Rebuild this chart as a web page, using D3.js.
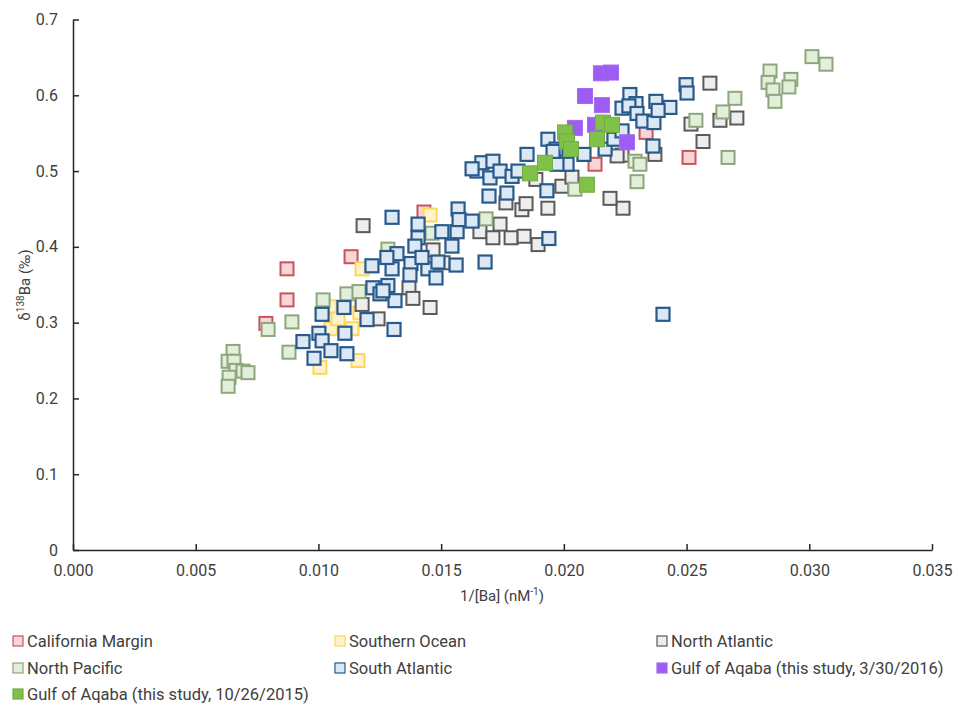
<!DOCTYPE html>
<html lang="en">
<head>
<meta charset="utf-8">
<title>d138Ba vs 1/[Ba]</title>
<style>
  body { margin: 0; background: #fff; }
  svg text { font-family: Roboto, "Liberation Sans", sans-serif; fill: #404040; }
  .axis path, .axis line { stroke: #262626; stroke-width: 1.5px; }
  .axis text { font-size: 16px; fill: #404040; }
</style>
<script src="https://d3js.org/d3.v7.min.js"></script>
</head>
<body>
<svg width="958" height="707"></svg>
<script>
// [1/[Ba] (nM^-1), d138Ba (permil)]
var californiaMargin = [
  [0.00786, 0.299], [0.00872, 0.371], [0.00872, 0.330], [0.01133, 0.387],
  [0.01430, 0.446], [0.02127, 0.509], [0.02335, 0.551], [0.02510, 0.518]
];
var southernOcean = [
  [0.01455, 0.442], [0.01178, 0.371], [0.01047, 0.321], [0.01169, 0.313],
  [0.01051, 0.292], [0.01137, 0.292], [0.01161, 0.250], [0.01006, 0.241],
  [0.01080, 0.305]
];
var northAtlantic = [
  [0.01182, 0.428], [0.01369, 0.346], [0.01385, 0.332], [0.01455, 0.320],
  [0.01178, 0.324], [0.01243, 0.305], [0.01467, 0.396], [0.01508, 0.379],
  [0.01658, 0.420], [0.01711, 0.412], [0.01740, 0.430], [0.01785, 0.412],
  [0.01838, 0.414], [0.01895, 0.403], [0.01829, 0.449], [0.01764, 0.458],
  [0.01846, 0.457], [0.01935, 0.451], [0.01886, 0.489], [0.02241, 0.451],
  [0.02188, 0.464], [0.01992, 0.480], [0.02033, 0.492], [0.02237, 0.521],
  [0.02217, 0.520], [0.02371, 0.522], [0.02518, 0.562], [0.02595, 0.616],
  [0.02567, 0.539], [0.02705, 0.570], [0.02636, 0.567]
];
var northPacific = [
  [0.00652, 0.262], [0.00632, 0.249], [0.00656, 0.249], [0.00664, 0.237],
  [0.00693, 0.236], [0.00713, 0.234], [0.00636, 0.228], [0.00632, 0.216],
  [0.00795, 0.291], [0.00892, 0.301], [0.00880, 0.261], [0.01019, 0.330],
  [0.01116, 0.338], [0.01165, 0.341], [0.01283, 0.397], [0.01463, 0.418],
  [0.01683, 0.437], [0.02045, 0.476], [0.02290, 0.513], [0.02310, 0.509],
  [0.02298, 0.486], [0.02538, 0.567], [0.02697, 0.596], [0.02648, 0.578],
  [0.02669, 0.518], [0.02840, 0.632], [0.02832, 0.617], [0.02852, 0.607],
  [0.02860, 0.592], [0.02925, 0.621], [0.02917, 0.611], [0.03011, 0.651],
  [0.03068, 0.641]
];
var southAtlantic = [
  [0.00937, 0.275], [0.01002, 0.286], [0.01015, 0.276], [0.00982, 0.253],
  [0.01051, 0.263], [0.01116, 0.259], [0.01108, 0.286], [0.01015, 0.311],
  [0.01104, 0.320], [0.01198, 0.304], [0.01308, 0.291], [0.01222, 0.346],
  [0.01283, 0.349], [0.01312, 0.329], [0.01251, 0.338], [0.01218, 0.375],
  [0.01300, 0.371], [0.01377, 0.378], [0.01373, 0.363], [0.01446, 0.371],
  [0.01479, 0.359], [0.01561, 0.376], [0.01300, 0.439], [0.01406, 0.430],
  [0.01406, 0.412], [0.01393, 0.401], [0.01320, 0.391], [0.01422, 0.386],
  [0.01503, 0.420], [0.01544, 0.401], [0.01565, 0.420], [0.01569, 0.450],
  [0.01573, 0.436], [0.01626, 0.434], [0.01487, 0.380], [0.01263, 0.342],
  [0.01679, 0.380], [0.01939, 0.411], [0.02404, 0.311], [0.01279, 0.386],
  [0.01646, 0.500], [0.01666, 0.511], [0.01711, 0.513], [0.01699, 0.491],
  [0.01740, 0.500], [0.01789, 0.493], [0.01813, 0.500], [0.01850, 0.522],
  [0.01695, 0.467], [0.01768, 0.471], [0.01931, 0.474], [0.01935, 0.542],
  [0.01626, 0.503], [0.01968, 0.529], [0.02013, 0.509], [0.01972, 0.509],
  [0.01956, 0.526], [0.02082, 0.522], [0.02168, 0.529], [0.02204, 0.542],
  [0.02237, 0.553], [0.02237, 0.583], [0.02269, 0.601], [0.02294, 0.589],
  [0.02265, 0.586], [0.02298, 0.576], [0.02322, 0.566], [0.02367, 0.564],
  [0.02375, 0.592], [0.02432, 0.584], [0.02384, 0.580], [0.02498, 0.614],
  [0.02502, 0.603], [0.02363, 0.533]
];
var aqaba2016 = [
  [0.02151, 0.629], [0.02192, 0.630], [0.02086, 0.599], [0.02155, 0.587],
  [0.02045, 0.557], [0.02127, 0.561], [0.02257, 0.538]
];
var aqaba2015 = [
  [0.02005, 0.551], [0.02013, 0.539], [0.02029, 0.529], [0.01923, 0.511],
  [0.01862, 0.497], [0.02094, 0.482], [0.02159, 0.564], [0.02196, 0.561],
  [0.02135, 0.542]
];

var xTicks = [0, 0.005, 0.010, 0.015, 0.020, 0.025, 0.030, 0.035];
var yTicks = [0, 0.1, 0.2, 0.3, 0.4, 0.5, 0.6, 0.7];

var series = [
  { name: "California Margin", data: californiaMargin, fill: "#f8d5d6", stroke: "#c8555b", size: 13, sw: 2 },
  { name: "Southern Ocean", data: southernOcean, fill: "#fff2cc", stroke: "#fdd75a", size: 13, sw: 2 },
  { name: "North Atlantic", data: northAtlantic, fill: "#eeeeee", stroke: "#5a5a5a", size: 13, sw: 2 },
  { name: "North Pacific", data: northPacific, fill: "#e2efda", stroke: "#8ea67c", size: 13, sw: 2 },
  { name: "South Atlantic", data: southAtlantic, fill: "#dde8f5", stroke: "#285a8c", size: 13, sw: 2.2 },
  { name: "Gulf of Aqaba (this study, 3/30/2016)", data: aqaba2016, fill: "#9d5cf3", stroke: "#a369f0", size: 15, sw: 1 },
  { name: "Gulf of Aqaba (this study, 10/26/2015)", data: aqaba2015, fill: "#80c14a", stroke: "#70ad3e", size: 15, sw: 1 }
];

var svg = d3.select("svg");

var x = d3.scaleLinear().domain([0, 0.035]).range([73, 932]);
var y = d3.scaleLinear().domain([0, 0.7]).range([550, 19.5]);

// axes, ticks pointing inward like the original
svg.append("g")
    .attr("class", "axis")
    .attr("transform", "translate(0,550)")
    .call(d3.axisBottom(x).tickValues(xTicks).tickFormat(d3.format(".3f")).tickSizeInner(-6).tickSizeOuter(0).tickPadding(15));

svg.append("g")
    .attr("class", "axis")
    .attr("transform", "translate(73,0)")
    .call(d3.axisLeft(y).tickValues(yTicks).tickFormat(function(d) { return d === 0 ? "0" : d3.format(".1f")(d); })
      .tickSizeInner(-6).tickSizeOuter(0).tickPadding(15));

// axis titles
svg.append("text")
    .attr("x", 502)
    .attr("y", 601)
    .attr("text-anchor", "middle")
    .style("font-size", "15px")
    .html('1/[Ba] (nM<tspan dy="-6" font-size="10px">-1</tspan><tspan dy="6">)</tspan>');

svg.append("text")
    .attr("transform", "translate(30,285) rotate(-90)")
    .attr("text-anchor", "middle")
    .style("font-size", "15px")
    .html('δ<tspan dy="-6" font-size="10px">138</tspan><tspan dy="6">Ba (‰)</tspan>');

// points
series.forEach(function(s) {
  svg.append("g")
    .selectAll("rect")
    .data(s.data)
    .enter().append("rect")
      .attr("x", function(d) { return x(d[0]) - s.size / 2; })
      .attr("y", function(d) { return y(d[1]) - s.size / 2; })
      .attr("width", s.size)
      .attr("height", s.size)
      .attr("fill", s.fill)
      .attr("stroke", s.stroke)
      .attr("stroke-width", s.sw);
});

// legend
var legendCols = [13, 335, 657];
var legendRows = [641, 668, 694];

var legend = svg.append("g")
  .selectAll("g")
  .data(series)
  .enter().append("g")
    .attr("transform", function(d, i) {
      return "translate(" + legendCols[i % 3] + "," + legendRows[Math.floor(i / 3)] + ")";
    });

legend.append("rect")
    .attr("x", 0)
    .attr("y", -5)
    .attr("width", 10)
    .attr("height", 10)
    .attr("fill", function(d) { return d.fill; })
    .attr("stroke", function(d) { return d.stroke; })
    .attr("stroke-width", 1.2);

legend.append("text")
    .attr("x", 14)
    .attr("y", 0)
    .attr("dy", "0.35em")
    .style("font-size", "16.5px")
    .text(function(d) { return d.name; });
</script>
</body>
</html>
